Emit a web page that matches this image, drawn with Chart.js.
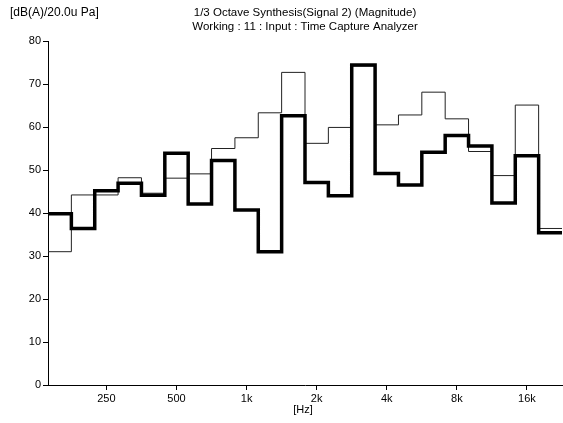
<!DOCTYPE html>
<html>
<head>
<meta charset="utf-8">
<script src="https://cdn.jsdelivr.net/npm/chart.js@4.4.1/dist/chart.umd.min.js"></script>
<style>
  html, body { margin: 0; padding: 0; background: #fff; }
  #wrap { width: 563px; height: 423px; }
</style>
</head>
<body>
<div id="wrap"><canvas id="octChart" width="563" height="423"></canvas></div>
<script>
// 1/3 octave bands, 160 Hz .. 20 kHz
const bands = ['160', '200', '250', '315', '400', '500', '630', '800', '1k', '1.25k', '1.6k',
  '2k', '2.5k', '3.15k', '4k', '5k', '6.3k', '8k', '10k', '12.5k', '16k', '20k'];

// thin trace
const thinValues = [31, 44.2, 44.2, 48.2, 44.6, 48.1, 49.1, 55.0, 57.5, 63.3, 72.7,
  56.2, 59.9, 74.2, 60.5, 62.8, 68.1, 61.9, 54.3, 48.7, 65.1, 36.4];

// thick trace
const thickValues = [39.8, 36.4, 45.2, 46.9, 44.1, 53.9, 42.1, 52.2, 40.7, 31.0, 62.6,
  47.1, 44.0, 74.4, 49.2, 46.5, 54.1, 58.0, 55.6, 42.3, 53.3, 35.4];

const xTickLabels = ['250', '500', '1k', '2k', '4k', '8k', '16k'];
const yTicks = [0, 10, 20, 30, 40, 50, 60, 70, 80];

const FONT = 'Liberation Sans';

// stepped line: one point per band left edge + closing point at the last right edge
function toSteps(vals) {
  const pts = vals.map((v, i) => ({ x: i, y: v }));
  pts.push({ x: vals.length, y: vals[vals.length - 1] });
  return pts;
}

const textPlugin = {
  id: 'extraText',
  afterDraw(chart) {
    const ctx = chart.ctx;
    const area = chart.chartArea;
    const cx = (area.left + area.right) / 2;
    ctx.save();
    ctx.fillStyle = '#000';
    ctx.textBaseline = 'middle';
    ctx.textAlign = 'left';
    ctx.font = '12px "' + FONT + '"';
    ctx.fillText('[dB(A)/20.0u Pa]', 10, 13);
    ctx.textAlign = 'center';
    ctx.font = '11.5px "' + FONT + '"';
    ctx.fillText('1/3 Octave Synthesis(Signal 2) (Magnitude)', cx, 13);
    ctx.fillText('Working : 11 : Input : Time Capture Analyzer', cx, 27);
    ctx.font = '11px "' + FONT + '"';
    ctx.fillText('[Hz]', 303, 410);
    // x axis line runs a little past the y axis
    ctx.strokeStyle = '#000';
    ctx.lineWidth = 1;
    ctx.beginPath();
    ctx.moveTo(43, area.bottom + 0.5);
    ctx.lineTo(area.left, area.bottom + 0.5);
    ctx.stroke();
    ctx.restore();
  }
};

const ctx = document.getElementById('octChart').getContext('2d');
new Chart(ctx, {
  type: 'line',
  data: {
    datasets: [
      {
        label: 'thick',
        data: toSteps(thickValues),
        stepped: 'before',
        borderColor: '#000',
        borderWidth: 3.5,
        pointRadius: 0,
        fill: false,
        order: 0
      },
      {
        label: 'thin',
        data: toSteps(thinValues),
        stepped: 'before',
        borderColor: '#222',
        borderWidth: 1,
        pointRadius: 0,
        fill: false,
        order: 1
      }
    ]
  },
  options: {
    responsive: false,
    animation: false,
    layout: { padding: { top: 41, right: 1, left: 0, bottom: 0 } },
    plugins: {
      legend: { display: false },
      title: { display: false },
      tooltip: { enabled: false }
    },
    scales: {
      x: {
        type: 'linear',
        min: 0,
        max: bands.length,
        afterBuildTicks(scale) {
          scale.ticks = xTickLabels.map(l => ({ value: bands.indexOf(l) + 0.5 }));
        },
        afterFit(scale) { scale.height = 38; },
        ticks: {
          color: '#000',
          font: { family: FONT, size: 11 },
          padding: 2,
          maxRotation: 0,
          autoSkip: false,
          callback: (v) => bands[Math.floor(v)]
        },
        grid: { drawOnChartArea: false, drawTicks: true, tickLength: 5, color: '#000' },
        border: { display: true, color: '#000', width: 1 }
      },
      y: {
        min: 0,
        max: 80,
        afterBuildTicks(scale) {
          scale.ticks = yTicks.map(v => ({ value: v }));
        },
        afterFit(scale) { scale.width = 48; },
        ticks: {
          color: '#000',
          font: { family: FONT, size: 11 },
          padding: 2
        },
        grid: { drawOnChartArea: false, drawTicks: true, tickLength: 5, color: '#000' },
        border: { display: true, color: '#000', width: 1 }
      }
    }
  },
  plugins: [textPlugin]
});
</script>
</body>
</html>
